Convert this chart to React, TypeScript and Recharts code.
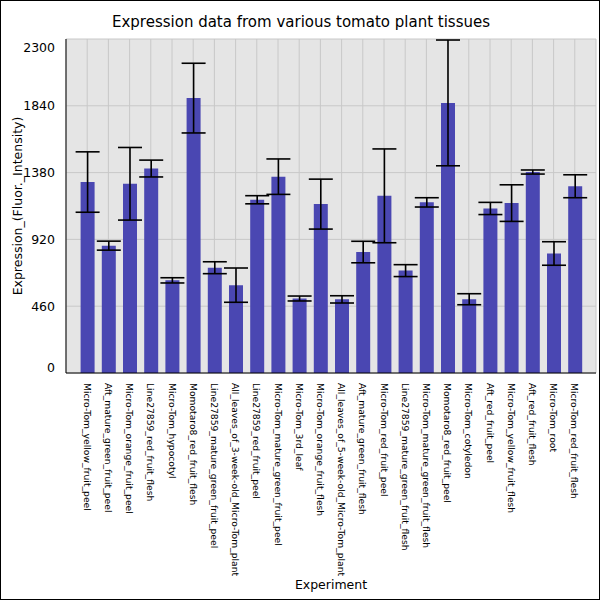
import React from 'react';
import { Bar, BarChart, CartesianGrid, ErrorBar, Label, XAxis, YAxis } from 'recharts';

const tissues = [
  'Micro-Tom_yellow_fruit_peel',
  'Aft_mature_green_fruit_peel',
  'Micro-Tom_orange_fruit_peel',
  'Line27859_red_fruit_flesh',
  'Micro-Tom_hypocotyl',
  'Momotaro8_red_fruit_flesh',
  'Line27859_mature_green_fruit_peel',
  'All_leaves_of_3-week-old_Micro-Tom_plant',
  'Line27859_red_fruit_peel',
  'Micro-Tom_mature_green_fruit_peel',
  'Micro-Tom_3rd_leaf',
  'Micro-Tom_orange_fruit_flesh',
  'All_leaves_of_5-week-old_Micro-Tom_plant',
  'Aft_mature_green_fruit_flesh',
  'Micro-Tom_red_fruit_peel',
  'Line27859_mature_green_fruit_flesh',
  'Micro-Tom_mature_green_fruit_flesh',
  'Momotaro8_red_fruit_peel',
  'Micro-Tom_cotyledon',
  'Aft_red_fruit_peel',
  'Micro-Tom_yellow_fruit_flesh',
  'Aft_red_fruit_flesh',
  'Micro-Tom_root',
  'Micro-Tom_red_fruit_flesh',
];

const expression = [
  1315, 877, 1303, 1408, 638, 1893, 725, 605, 1193, 1352, 513, 1163,
  507, 833, 1220, 705, 1175, 1860, 508, 1133, 1170, 1384, 823, 1286,
];

const stdError = [
  208, 31, 250, 58, 18, 240, 41, 118, 28, 122, 17, 172,
  25, 74, 323, 41, 32, 433, 38, 42, 126, 14, 81, 79,
];

const yTicks = [0, 460, 920, 1380, 1840, 2300];

const data = tissues.map((name, i) => ({ name, value: expression[i], err: stdError[i] }));

const FONT = '"DejaVu Sans", sans-serif';

function XTick(props: any) {
  const { x, y, payload } = props;
  return (
    <text
      transform={`translate(${x},${y + 2}) rotate(90)`}
      textAnchor="start"
      dominantBaseline="central"
      fontSize={9.2}
      fontFamily={FONT}
      fill="#000"
    >
      {payload.value}
    </text>
  );
}

function YTick(props: any) {
  const { x, y, payload } = props;
  let dy = 0;
  if (payload.value === 2300) dy = 8;
  if (payload.value === 0) dy = -6;
  return (
    <text
      x={x - 3}
      y={y + dy}
      textAnchor="end"
      dominantBaseline="central"
      fontSize={12.5}
      fontFamily={FONT}
      fill="#000"
    >
      {payload.value}
    </text>
  );
}

export default function App() {
  return (
    <div
      style={{
        position: 'absolute',
        left: 0,
        top: 0,
        width: 600,
        height: 600,
        boxSizing: 'border-box',
        border: '1px solid #000',
        background: '#fff',
        fontFamily: FONT,
      }}
    >
      <div
        style={{
          position: 'absolute',
          top: 12,
          left: 0,
          width: 600,
          textAlign: 'center',
          fontSize: 15,
          color: '#000',
        }}
      >
        Expression data from various tomato plant tissues
      </div>
      <div style={{ position: 'absolute', left: -1, top: -1 }}>
        <BarChart
          width={600}
          height={600}
          data={data}
          margin={{ top: 39, right: 4, bottom: 0, left: 0 }}
        >
          <CartesianGrid stroke="#c8c8c8" fill="#e5e5e5" />
          <XAxis
            dataKey="name"
            interval={0}
            height={227}
            padding={{ left: 10.6, right: 10.6 }}
            axisLine={{ stroke: '#000' }}
            tickLine={false}
            tick={<XTick />}
          >
            <Label
              value="Experiment"
              position="insideBottom"
              offset={11}
              style={{ fontSize: 12.5, fontFamily: FONT, fill: '#000' }}
            />
          </XAxis>
          <YAxis
            width={66}
            domain={[0, 2300]}
            ticks={yTicks}
            interval={0}
            axisLine={{ stroke: '#000' }}
            tickLine={false}
            tick={<YTick />}
          >
            <Label
              value="Expression_(Fluor._Intensity)"
              angle={-90}
              position="insideLeft"
              offset={18}
              style={{ textAnchor: 'middle', fontSize: 12.5, fontFamily: FONT, fill: '#000' }}
            />
          </YAxis>
          <Bar dataKey="value" fill="#4a47b2" barSize={14} isAnimationActive={false}>
            <ErrorBar
              dataKey="err"
              width={12}
              stroke="#000"
              strokeWidth={1.6}
              direction="y"
              isAnimationActive={false}
            />
          </Bar>
        </BarChart>
      </div>
    </div>
  );
}
